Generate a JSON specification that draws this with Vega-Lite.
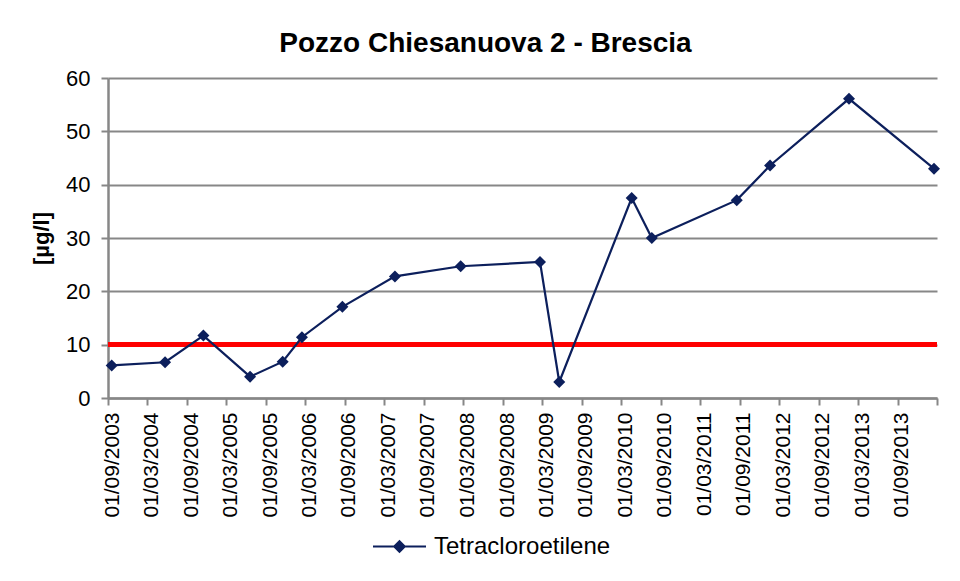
{
  "$schema": "https://vega.github.io/schema/vega-lite/v6.json",
  "autosize": "none",
  "width": 829,
  "height": 320,
  "padding": {"left": 108, "top": 78, "right": 23, "bottom": 183},
  "background": "white",
  "config": {
    "font": "Liberation Sans",
    "view": {"stroke": null},
    "axis": {"labelColor": "#000000", "titleColor": "#000000", "domainColor": "#878787", "domainWidth": 2.5, "tickColor": "#878787", "tickWidth": 2, "tickSize": 7, "gridColor": "#878787", "gridWidth": 2}
  },
  "title": {"text": "Pozzo Chiesanuova 2 - Brescia", "fontSize": 28, "fontWeight": "bold", "color": "#000000", "anchor": "middle", "offset": 9, "dx": -37},
  "data": {"values": [
    {"data": "2003-09-18", "valore": 6.1, "serie": "Tetracloroetilene"},
    {"data": "2004-05-22", "valore": 6.7, "serie": "Tetracloroetilene"},
    {"data": "2004-11-15", "valore": 11.7, "serie": "Tetracloroetilene"},
    {"data": "2005-06-19", "valore": 4.0, "serie": "Tetracloroetilene"},
    {"data": "2005-11-17", "valore": 6.8, "serie": "Tetracloroetilene"},
    {"data": "2006-02-14", "valore": 11.4, "serie": "Tetracloroetilene"},
    {"data": "2006-08-20", "valore": 17.1, "serie": "Tetracloroetilene"},
    {"data": "2007-04-20", "valore": 22.8, "serie": "Tetracloroetilene"},
    {"data": "2008-02-18", "valore": 24.7, "serie": "Tetracloroetilene"},
    {"data": "2009-02-19", "valore": 25.5, "serie": "Tetracloroetilene"},
    {"data": "2009-05-19", "valore": 3.0, "serie": "Tetracloroetilene"},
    {"data": "2010-04-19", "valore": 37.5, "serie": "Tetracloroetilene"},
    {"data": "2010-07-21", "valore": 30.0, "serie": "Tetracloroetilene"},
    {"data": "2011-08-18", "valore": 37.1, "serie": "Tetracloroetilene"},
    {"data": "2012-01-19", "valore": 43.6, "serie": "Tetracloroetilene"},
    {"data": "2013-01-18", "valore": 56.1, "serie": "Tetracloroetilene"},
    {"data": "2014-02-15", "valore": 43.0, "serie": "Tetracloroetilene"}
  ]},
  "layer": [
    {
      "mark": {"type": "rule", "color": "#FF0000", "strokeWidth": 4},
      "encoding": {
        "y": {"datum": 10, "type": "quantitative", "scale": {"domain": [0, 60], "nice": false},
          "axis": {"values": [0, 10, 20, 30, 40, 50, 60], "grid": true, "title": "[µg/l]", "titleFontSize": 22, "titleFontWeight": "bold", "labelFontSize": 22, "labelPadding": 11, "titlePadding": 12}}
      }
    },
    {
      "mark": {"type": "line", "strokeWidth": 2.2, "point": {"shape": "diamond", "size": 144, "filled": true, "opacity": 1}},
      "encoding": {
        "x": {
          "field": "data", "type": "temporal",
          "scale": {"type": "utc", "domain": [{"year": 2003, "month": 9, "date": 1, "utc": true}, {"year": 2014, "month": 3, "date": 1, "utc": true}]},
          "axis": {
            "title": null, "grid": false, "format": "%d/%m/%Y", "labelAngle": -90, "labelFontSize": 21, "labelPadding": 7, "labelOffset": 4,
            "values": [
              {"year": 2003, "month": 9, "date": 1, "utc": true},
              {"year": 2004, "month": 3, "date": 1, "utc": true},
              {"year": 2004, "month": 9, "date": 1, "utc": true},
              {"year": 2005, "month": 3, "date": 1, "utc": true},
              {"year": 2005, "month": 9, "date": 1, "utc": true},
              {"year": 2006, "month": 3, "date": 1, "utc": true},
              {"year": 2006, "month": 9, "date": 1, "utc": true},
              {"year": 2007, "month": 3, "date": 1, "utc": true},
              {"year": 2007, "month": 9, "date": 1, "utc": true},
              {"year": 2008, "month": 3, "date": 1, "utc": true},
              {"year": 2008, "month": 9, "date": 1, "utc": true},
              {"year": 2009, "month": 3, "date": 1, "utc": true},
              {"year": 2009, "month": 9, "date": 1, "utc": true},
              {"year": 2010, "month": 3, "date": 1, "utc": true},
              {"year": 2010, "month": 9, "date": 1, "utc": true},
              {"year": 2011, "month": 3, "date": 1, "utc": true},
              {"year": 2011, "month": 9, "date": 1, "utc": true},
              {"year": 2012, "month": 3, "date": 1, "utc": true},
              {"year": 2012, "month": 9, "date": 1, "utc": true},
              {"year": 2013, "month": 3, "date": 1, "utc": true},
              {"year": 2013, "month": 9, "date": 1, "utc": true},
              {"year": 2014, "month": 3, "date": 1, "utc": true}
            ],
            "labelExpr": "datum.index === 1 ? '' : datum.label",
            "labelOverlap": false, "labelBound": false, "labelFlush": false
          }
        },
        "y": {"field": "valore", "type": "quantitative"},
        "color": {
          "field": "serie", "type": "nominal",
          "scale": {"domain": ["Tetracloroetilene"], "range": ["#0C1F5C"]},
          "legend": {
            "title": null, "orient": "none", "legendX": 264, "legendY": 441, "padding": 0,
            "symbolType": "M-1,0H1M0,-0.2L0.2,0L0,0.2L-0.2,0Z",
            "symbolSize": 2809, "symbolStrokeWidth": 2, "symbolStrokeColor": "#0C1F5C", "symbolFillColor": "#0C1F5C",
            "labelFontSize": 24, "labelColor": "#000000", "labelOffset": 7, "labelLimit": 400
          }
        }
      }
    }
  ]
}
